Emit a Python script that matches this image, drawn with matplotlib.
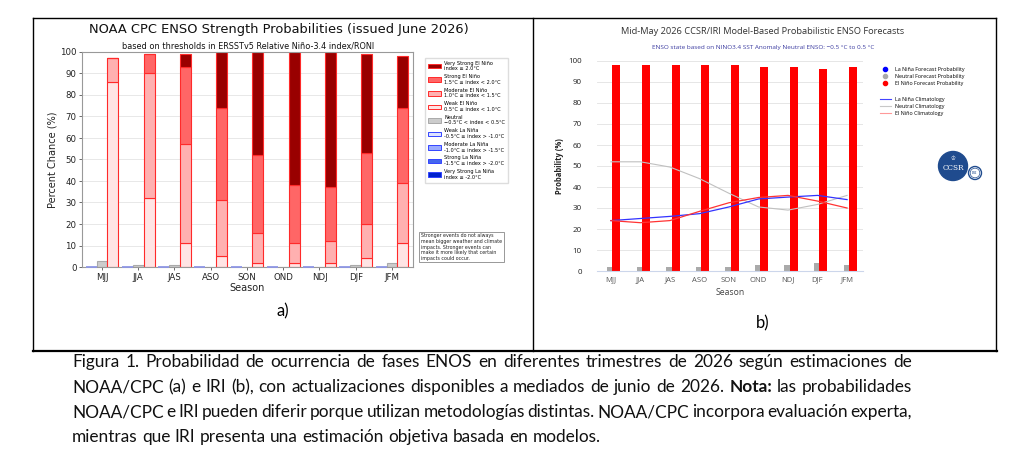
import numpy as np
import matplotlib
matplotlib.use('Agg')
import matplotlib.pyplot as plt
from matplotlib.patches import Patch, Circle
from matplotlib.lines import Line2D

W, H = 1026, 465

## the data
seasons = ['MJJ', 'JJA', 'JAS', 'ASO', 'SON', 'OND', 'NDJ', 'DJF', 'JFM']

# a) NOAA CPC strength probabilities (%)
cpc_lanina = [0, 0, 0, 0, 0, 0, 0, 0, 0]
cpc_neutral = [3, 1, 1, 0, 0, 0, 0, 1, 2]
cpc_weak = [86, 32, 11, 5, 2, 2, 2, 4, 11]
cpc_moderate = [11, 58, 46, 26, 14, 9, 10, 16, 28]
cpc_strong = [0, 9, 36, 43, 36, 27, 25, 33, 35]
cpc_very_strong = [0, 0, 6, 26, 48, 62, 63, 46, 24]

# b) IRI model based probabilities (%)
iri_lanina = [0, 0, 0, 0, 0, 0, 0, 0, 0]
iri_neutral = [2, 2, 2, 2, 2, 3, 3, 4, 3]
iri_elnino = [98, 98, 98, 98, 98, 97, 97, 96, 97]
clim_lanina = [24, 25, 26, 27.3, 30.5, 34.3, 35.2, 36, 34]
clim_neutral = [52, 52, 49.5, 44, 37, 30.5, 29, 31.7, 36]
clim_elnino = [24, 23, 24, 28.4, 32.5, 35, 36, 33.3, 30]

caption = [
    [("Figura 1. Probabilidad de ocurrencia de fases ENOS en diferentes trimestres de 2026 según estimaciones de", False)],
    [("NOAA/CPC (a) e IRI (b), con actualizaciones disponibles a mediados de junio de 2026.", False),
     ("Nota:", True), ("las probabilidades", False)],
    [("NOAA/CPC e IRI pueden diferir porque utilizan metodologías distintas. NOAA/CPC incorpora evaluación experta,", False)],
    [("mientras que IRI presenta una estimación objetiva basada en modelos.", False)],
]


def rect(l, t, r, b):
    return [l / W, 1 - b / H, (r - l) / W, (b - t) / H]


fig = plt.figure(figsize=(W / 100, H / 100), dpi=100)

# frame around the two panels
def fline(xs, ys, lw=1.0):
    fig.add_artist(Line2D([x / W for x in xs], [1 - y / H for y in ys],
                          color='black', lw=lw, transform=fig.transFigure))

fline([33, 996], [18, 18])
fline([33, 33], [18, 351])
fline([533, 533], [18, 351])
fline([996, 996], [18, 351])
fline([33, 997], [351, 351], lw=1.6)

## panel a
ind = np.arange(len(seasons))
wa = 0.3
axa = fig.add_axes(rect(82, 52, 413, 267))
axa.set_axisbelow(True)
axa.grid(axis='y', color='#e8e8e8', lw=0.7)

axa.bar(ind - wa, cpc_lanina, wa, color='#dde3ff', edgecolor='#8f97e6', lw=1.3,
        zorder=4, clip_on=False)
axa.bar(ind, cpc_neutral, wa, color='#cccccc', edgecolor='#aaaaaa', lw=0.8)
bottom = np.zeros(len(seasons))
el_colors = ['#ffe4e4', '#ffb0b0', '#ff6666', '#990000']
for vals, c in zip([cpc_weak, cpc_moderate, cpc_strong, cpc_very_strong], el_colors):
    axa.bar(ind + wa, vals, wa, bottom=bottom, color=c, edgecolor='#ff2a2a', lw=0.8)
    bottom += np.array(vals)

axa.set_xlim(-0.55, 8.58)
axa.set_ylim(0, 100)
axa.set_yticks(range(0, 101, 10))
axa.set_xticks(ind)
axa.set_xticklabels(seasons)
axa.tick_params(labelsize=6.2, length=2.5, width=0.6, color='#555555', pad=1.5,
                labelcolor='#222222')
for s in axa.spines.values():
    s.set_color('#999999')
    s.set_linewidth(0.8)
axa.set_ylabel('Percent Chance (%)', fontsize=7, labelpad=2, color='#222222')
axa.set_xlabel('Season', fontsize=7, labelpad=1, color='#222222')
fig.text(279 / W, 1 - 29 / H, 'NOAA CPC ENSO Strength Probabilities (issued June 2026)',
         ha='center', va='center', fontsize=9.4, color='#111111')
fig.text(248 / W, 1 - 46 / H, 'based on thresholds in ERSSTv5 Relative Niño-3.4 index/RONI',
         ha='center', va='center', fontsize=5.9, color='#111111')

leg_labels = [
    'Very Strong El Niño\nindex ≥ 2.0°C',
    'Strong El Niño\n1.5°C ≤ index < 2.0°C',
    'Moderate El Niño\n1.0°C ≤ index < 1.5°C',
    'Weak El Niño\n0.5°C ≤ index < 1.0°C',
    'Neutral\n−0.5°C < index < 0.5°C',
    'Weak La Niña\n-0.5°C ≥ index > -1.0°C',
    'Moderate La Niña\n-1.0°C ≥ index > -1.5°C',
    'Strong La Niña\n-1.5°C ≥ index > -2.0°C',
    'Very Strong La Niña\nindex ≤ -2.0°C',
]
leg_faces = ['#990000', '#ff6666', '#ffb0b0', '#ffe4e4', '#cccccc',
             '#dde3ff', '#99aaff', '#4466ee', '#0022cc']
leg_edges = ['#ff2a2a'] * 4 + ['#aaaaaa'] + ['#3344ff'] * 4
handles = [Patch(facecolor=f, edgecolor=e, lw=0.7) for f, e in zip(leg_faces, leg_edges)]
fig.legend(handles, leg_labels, loc='upper left', bbox_to_anchor=(422 / W, 1 - 55 / H),
           fontsize=3.6, handlelength=2.6, handleheight=1.0, labelspacing=0.55,
           borderpad=0.6, handletextpad=0.8, frameon=True, fancybox=False,
           edgecolor='#dddddd', framealpha=1)

fig.text(421 / W, 1 - 247 / H,
         'Stronger events do not always\nmean bigger weather and climate\n'
         'impacts. Stronger events can\nmake it more likely that certain\nimpacts could occur.',
         ha='left', va='center', fontsize=3.4, linespacing=1.15, color='#222222',
         bbox=dict(boxstyle='square,pad=0.35', fc='white', ec='#888888', lw=0.6))

## panel b
fb = 'Open Sans'
axb = fig.add_axes(rect(597, 61, 863, 271))
axb.set_axisbelow(True)
axb.grid(axis='y', color='#e6e6e6', lw=0.7)
axb.bar(ind - 0.25, iri_lanina, 0.18, color='#0000ff', lw=0)
axb.bar(ind - 0.03, iri_neutral, 0.18, color='#aaaaaa', lw=0)
axb.bar(ind + 0.19, iri_elnino, 0.27, color='#ff0000', lw=0)
axb.plot(ind, clim_neutral, color='#c0c0c0', lw=0.8)
axb.plot(ind, clim_lanina, color='#3333ff', lw=0.9)
axb.plot(ind, clim_elnino, color='#ff3333', lw=0.9)
axb.set_xlim(-0.47, 8.54)
axb.set_ylim(0, 100)
axb.set_yticks(range(0, 101, 10))
axb.set_xticks(ind)
axb.set_xticklabels(seasons, family=fb)
for lab in axb.get_yticklabels():
    lab.set_family(fb)
axb.tick_params(axis='x', length=0, labelsize=5.5, labelcolor='#555555', pad=4)
axb.tick_params(axis='y', length=0, labelsize=5.8, labelcolor='#222222', pad=11)
for k in ['top', 'right', 'left']:
    axb.spines[k].set_visible(False)
axb.spines['bottom'].set_color('#ccd6eb')
axb.spines['bottom'].set_linewidth(0.8)
axb.set_xlabel('Season', fontsize=6.2, family=fb, color='#444444', labelpad=3)
axb.set_ylabel('Probability (%)', fontsize=5.5, family=fb, fontweight='bold',
               color='#222222', labelpad=3)
fig.text(763 / W, 1 - 32 / H, 'Mid-May 2026 CCSR/IRI Model-Based Probabilistic ENSO Forecasts',
         ha='center', va='center', fontsize=6.7, family=fb, color='#333333')
fig.text(763 / W, 1 - 47 / H, 'ENSO state based on NINO3.4 SST Anomaly Neutral ENSO: −0.5 °C to 0.5 °C',
         ha='center', va='center', fontsize=4.6, family=fb, color='#3b3ba0')

mk = [Line2D([], [], ls='none', marker='o', ms=3, color=c) for c in ['#0000ff', '#aaaaaa', '#ff0000']]
fig.legend(mk, ['La Niña Forecast Probability', 'Neutral Forecast Probability',
                'El Niño Forecast Probability'],
           loc='upper left', bbox_to_anchor=(879 / W, 1 - 64 / H), frameon=False,
           prop={'family': fb, 'size': 3.9}, handlelength=1.2, handletextpad=1.2,
           labelspacing=0.4, borderpad=0)
ln = [Line2D([], [], color=c, lw=0.8) for c in ['#4444ff', '#c8c8c8', '#ff9999']]
fig.legend(ln, ['La Niña Climatology', 'Neutral Climatology', 'El Niño Climatology'],
           loc='upper left', bbox_to_anchor=(877 / W, 1 - 94 / H), frameon=False,
           prop={'family': fb, 'size': 3.9}, handlelength=2.0, handletextpad=0.9,
           labelspacing=0.4, borderpad=0)

# CCSR / IRI logo
axl = fig.add_axes(rect(935, 148, 985, 185))
axl.set_xlim(935, 985)
axl.set_ylim(185, 148)
axl.set_aspect('equal')
axl.axis('off')
axl.add_patch(Circle((953, 166), 14.5, color='#1f4b8e'))
axl.text(953, 168, 'CCSR', ha='center', va='center', color='white', fontsize=5.2,
         family='DejaVu Serif')
axl.text(953, 159, '♔', ha='center', va='center', color='white', fontsize=4)
axl.add_patch(Circle((975, 173), 6.5, fc='white', ec='#1f4b8e', lw=1.0))
axl.add_patch(Circle((975, 173), 4.8, fc='white', ec='#1f4b8e', lw=0.5))
axl.text(975, 173.3, 'IRI', ha='center', va='center', color='#1f4b8e', fontsize=2.6,
         family='DejaVu Serif')

fig.text(283 / W, 1 - 311 / H, 'a)', ha='center', va='center', fontsize=12, family='Lato')
fig.text(763 / W, 1 - 323 / H, 'b)', ha='center', va='center', fontsize=12, family='Lato')

## caption, justified word by word
renderer = fig.canvas.get_renderer()
x0, x1 = 72, 912
base_y = [367, 392, 417, 442]


def twidth(t):
    return t.get_window_extent(renderer).width


# pick a size so that the first line nearly fills the column
probe = fig.text(0, 0, caption[0][0][0], fontsize=10, family='Lato')
cap_size = 10 * 0.975 * (x1 - x0) / twidth(probe)
probe.remove()

probe1 = fig.text(0, 0, 'a a', fontsize=cap_size, family='Lato')
probe2 = fig.text(0, 0, 'aa', fontsize=cap_size, family='Lato')
space_w = twidth(probe1) - twidth(probe2)
probe1.remove()
probe2.remove()

for i, parts in enumerate(caption):
    words = []
    for txt, bold in parts:
        for w in txt.split(' '):
            words.append((w, bold))
    texts = [fig.text(0, 1 - base_y[i] / H, w, fontsize=cap_size, family='Lato',
                      fontweight='bold' if b else 'normal', va='baseline', color='#111111')
             for w, b in words]
    widths = [twidth(t) for t in texts]
    if i < len(caption) - 1:
        gap = (x1 - x0 - sum(widths)) / (len(texts) - 1)
    else:
        gap = space_w
    x = x0
    for t, w in zip(texts, widths):
        t.set_x(x / W)
        x += w + gap

fig.savefig('out.png', dpi=100)
